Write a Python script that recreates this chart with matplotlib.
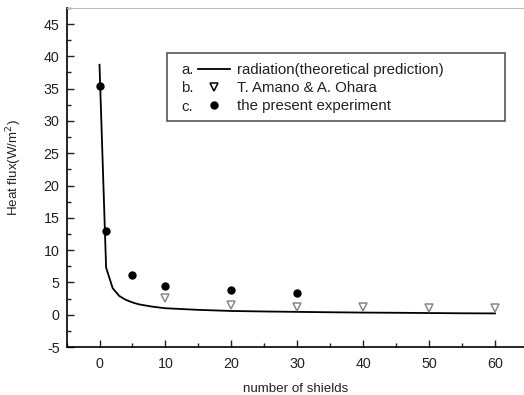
import matplotlib
matplotlib.use('Agg')
import matplotlib.pyplot as plt
from matplotlib.lines import Line2D
from matplotlib.patches import Rectangle
from matplotlib.ticker import MultipleLocator

plt.rcParams['font.family'] = ['Liberation Sans', 'DejaVu Sans']
plt.rcParams['axes.unicode_minus'] = False

# theoretical radiation curve
theory_x = [0, 1, 2, 3, 4, 5, 6, 8, 10, 15, 20, 25, 30, 35, 40, 45, 50, 55, 60]
theory_y = [38.7, 7.3, 4.1, 2.9, 2.3, 1.9, 1.6, 1.25, 1.0, 0.75, 0.58, 0.5, 0.44, 0.38, 0.33, 0.3, 0.26, 0.22, 0.2]

# T. Amano & A. Ohara
amano_x = [10, 20, 30, 40, 50, 60]
amano_y = [2.6, 1.5, 1.25, 1.15, 1.1, 1.1]

# the present experiment
exp_x = [0, 1, 5, 10, 20, 30]
exp_y = [35.4, 12.9, 6.1, 4.4, 3.8, 3.4]

fig = plt.figure(figsize=(5.24, 3.95), dpi=100)
ax = fig.add_axes([0.127, 0.1215, 0.873, 0.8585])

ax.plot(theory_x, theory_y, color='black', lw=1.3)
ax.plot(amano_x, amano_y, ls='none', marker='v', ms=6, mfc='white', mec='#888888', mew=1.1)
ax.plot(exp_x, exp_y, ls='none', marker='o', ms=5, color='black')

ax.set_xlim(-5, 64.4)
ax.set_ylim(-5, 47.5)
ax.xaxis.set_major_locator(MultipleLocator(10))
ax.xaxis.set_minor_locator(MultipleLocator(5))
ax.yaxis.set_major_locator(MultipleLocator(5))
ax.yaxis.set_minor_locator(MultipleLocator(2.5))
ax.set_xticks([0, 10, 20, 30, 40, 50, 60])
ax.tick_params(which='both', direction='in', colors='#222222', labelsize=10.3)
ax.tick_params(which='major', length=5, width=1)
ax.tick_params(which='minor', length=3, width=1)
ax.tick_params(axis='x', pad=7)
ax.tick_params(axis='y', pad=5)

ax.spines['right'].set_visible(False)
ax.spines['top'].set_color('#bbbbbb')
ax.spines['left'].set_linewidth(1.2)
ax.spines['bottom'].set_linewidth(1.2)

ax.set_xlabel('number of shields', fontsize=9.6, color='#222222')
ax.set_ylabel('Heat flux(W/m$^2$)', fontsize=9.6, color='#222222')
ax.xaxis.set_label_coords(0.5, -0.105)
ax.yaxis.set_label_coords(-0.094, 0.53)

# legend box drawn by hand so the a./b./c. prefixes sit inside it
ax.add_patch(Rectangle((0.2196, 0.667), 0.738, 0.2, transform=ax.transAxes,
                       fill=False, edgecolor='#555555', lw=1.2))
for lab, yy in zip(['a.', 'b.', 'c.'], [0.818, 0.763, 0.709]):
    ax.text(0.250, yy, lab, transform=ax.transAxes, va='center', ha='left',
            fontsize=10.8, color='#222222')

handles = [
    Line2D([], [], color='black', lw=1.3),
    Line2D([], [], ls='none', marker='v', ms=6, mfc='white', mec='black', mew=1.1),
    Line2D([], [], ls='none', marker='o', ms=5, color='black'),
]
labels = ['radiation(theoretical prediction)', 'T. Amano & A. Ohara', 'the present experiment']
leg = ax.legend(handles, labels, loc='upper left', bbox_to_anchor=(0.288, 0.838),
                frameon=False, fontsize=10.8, handlelength=2.1, handletextpad=0.45,
                labelspacing=0.27, borderpad=0, borderaxespad=0)
for t in leg.get_texts():
    t.set_color('#222222')

fig.savefig('out.png', dpi=100)
